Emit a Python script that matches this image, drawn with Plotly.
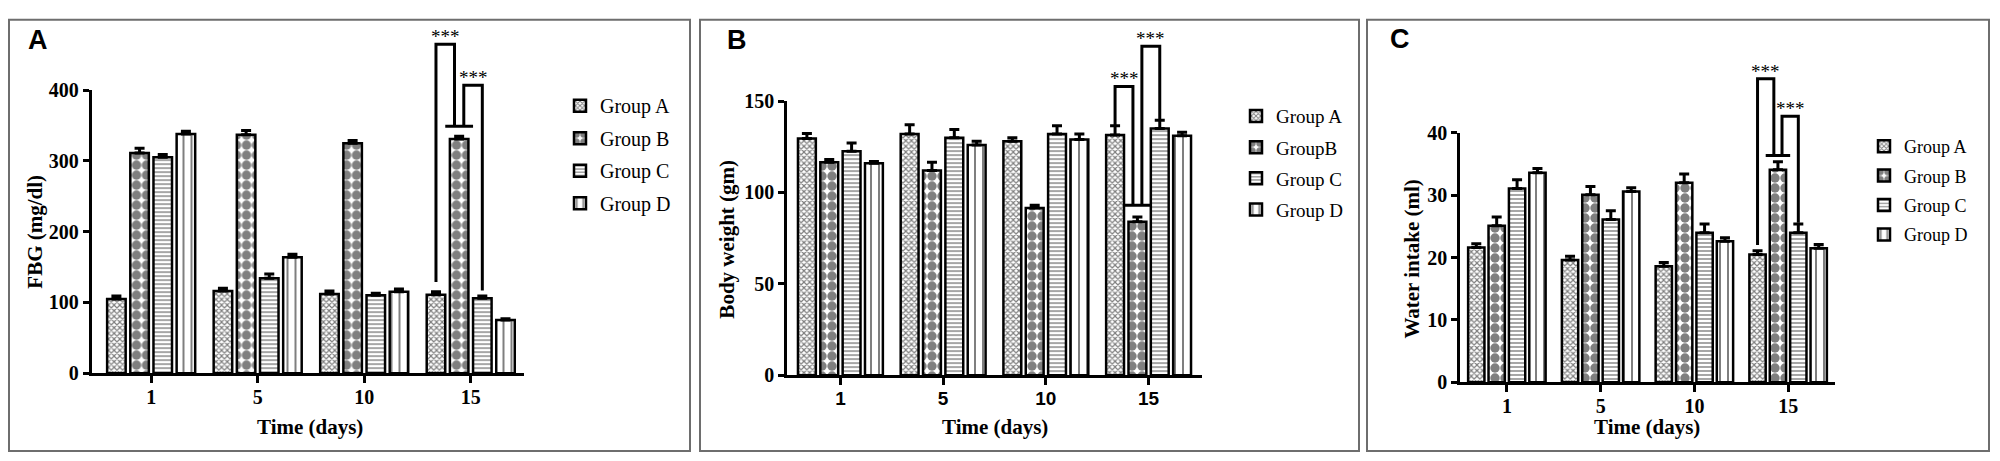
import plotly.graph_objects as go

days = ["1", "5", "10", "15"]
groups = ["Group A", "Group B", "Group C", "Group D"]
groups_weight = ["Group A", "GroupB", "Group C", "Group D"]

# means per group (rows) over days (columns)
fbg_mean = [[105, 116, 112, 111],
            [311, 337, 325, 331],
            [305, 134, 110, 106],
            [338, 164, 115, 75]]
fbg_err = [[4, 4, 4, 4],
           [7, 6, 4, 4],
           [4, 6, 3, 3],
           [4, 4, 4, 2]]

weight_mean = [[129.5, 132, 128, 131.5],
               [116.5, 112, 91.5, 84],
               [122.5, 130, 132, 135],
               [116, 126, 129, 131]]
weight_err = [[2.7, 5, 2, 5],
              [1.5, 4.5, 1.5, 2.5],
              [4.5, 4.5, 4.5, 4.5],
              [1, 2, 3, 2]]

water_mean = [[21.6, 19.6, 18.6, 20.5],
              [25.1, 30.1, 32.0, 34.1],
              [31.1, 26.1, 24.0, 24.0],
              [33.6, 30.6, 22.6, 21.5]]
water_err = [[0.6, 0.6, 0.6, 0.6],
             [1.4, 1.3, 1.4, 1.3],
             [1.4, 1.4, 1.4, 1.4],
             [0.7, 0.6, 0.6, 0.6]]

# day-15 significance brackets: A leg bottom, A-B top, bar over B, B-C top, C leg bottom
fbg_sig = [129, 465, 349, 407, 117]
weight_sig = [136, 158, 93, 180, 140]
water_sig = [22, 48.7, 36.4, 42.7, 25.6]

# page offsets seen in the screenshots: 8px body margin on the left,
# figure starts ~17px down and the shot is squeezed a little vertically
OFF_X = 8
OFF_Y = 17.4
SQUEEZE = 0.955
W, H = 2000 - 2 * OFF_X, 456
BARGAP = 0.13
SERIF = "Liberation Serif"
SANS = "Liberation Sans"


def fx(px):
    return (px - OFF_X) / W


def fy(py):
    return 1 - (py / SQUEEZE - OFF_Y) / H


patterns = [
    dict(shape="x", size=4, solidity=0.5, fgcolor="black", bgcolor="white"),
    dict(shape=".", size=10, solidity=0.7, fgcolor="black", bgcolor="white"),
    dict(shape="-", size=4, solidity=0.35, fgcolor="black", bgcolor="white"),
    dict(shape="|", size=8, solidity=0.25, fgcolor="black", bgcolor="white"),
]

# plot boxes in picture pixels: left, right, bottom (value 0), top (top tick)
panels = [
    dict(means=fbg_mean, errs=fbg_err, names=groups, sig=fbg_sig, ticks=[0, 100, 200, 300, 400],
         box=(91.5, 524, 372, 88), xr=[-0.56, 3.5], legend=(560, 84, 20, 3.5)),
    dict(means=weight_mean, errs=weight_err, names=groups_weight, sig=weight_sig,
         ticks=[0, 50, 100, 150], box=(787, 1202, 374, 99), xr=[-0.52, 3.52],
         legend=(1236, 95, 19, 3.5)),
    dict(means=water_mean, errs=water_err, names=groups, sig=water_sig, ticks=[0, 10, 20, 30, 40],
         box=(1460, 1835, 381, 131), xr=[-0.5, 3.5], legend=(1864, 126, 18, 3)),
]

fig = go.Figure()

tick_font = dict(family=SERIF, size=20, color="black", weight="bold")

layout = dict(
    width=W, height=H,
    margin=dict(l=0, r=0, t=0, b=0),
    paper_bgcolor="white", plot_bgcolor="rgba(0,0,0,0)",
    barmode="group", bargap=BARGAP, bargroupgap=0.2,
    showlegend=True,
)

for n, p in enumerate(panels, start=1):
    xa = "x" if n == 1 else f"x{n}"
    ya = "y" if n == 1 else f"y{n}"
    ya_sig = f"y{n + 3}"
    leg = "legend" if n == 1 else f"legend{n}"
    xpos = list(range(len(days)))
    left, right, bottom, top = p["box"]
    d0, d1 = fy(bottom), fy(top)
    ymax = p["ticks"][-1]

    for i, name in enumerate(p["names"]):
        fig.add_trace(go.Bar(
            x=xpos, y=p["means"][i], name=name, xaxis=xa, yaxis=ya,
            marker=dict(color="white", line=dict(color="black", width=2.5),
                        pattern=patterns[i]),
            error_y=dict(type="data", array=p["errs"][i], arrayminus=[0] * len(days),
                         symmetric=False, color="black", thickness=3, width=5),
            legend=leg, legendgroup=f"{leg}_{i}",
        ))

    # brackets over the last day, on a hidden axis with the same scale that reaches higher
    slot = (1 - BARGAP) / 4
    last = xpos[-1]
    a_c = last - 1.5 * slot
    b_c = last - 0.5 * slot
    c_c = last + 0.5 * slot
    s = p["sig"]
    bx = [a_c, a_c, b_c - 0.2 * slot, b_c - 0.2 * slot, None,
          b_c - 0.6 * slot, b_c + 0.6 * slot, None,
          b_c + 0.2 * slot, b_c + 0.2 * slot, c_c, c_c]
    by = [s[0], s[1], s[1], s[2], None,
          s[2], s[2], None,
          s[2], s[3], s[3], s[4]]
    fig.add_trace(go.Scatter(x=bx, y=by, mode="lines", xaxis=xa, yaxis=ya_sig,
                             line=dict(color="black", width=3),
                             showlegend=False, hoverinfo="skip"))
    for sx, sy in [((a_c + b_c - 0.2 * slot) / 2, s[1]),
                   ((b_c + 0.2 * slot + c_c) / 2, s[3])]:
        fig.add_annotation(x=sx, y=sy, xref=xa, yref=ya_sig, text="***", showarrow=False,
                           xanchor="center", yanchor="bottom", yshift=-5,
                           font=dict(family=SERIF, size=19, color="black"))

    dtop = 0.998
    layout[f"xaxis{'' if n == 1 else n}"] = dict(
        domain=[fx(left), fx(right)], range=p["xr"], anchor=ya,
        tickvals=xpos, ticktext=days, showline=True, linecolor="black", linewidth=3,
        ticks="outside", ticklen=7, tickwidth=2.5, tickcolor="black",
        ticklabelstandoff=-3, showgrid=False, zeroline=False,
        tickfont=dict(family=SANS, size=19, color="black", weight="bold") if n == 2 else tick_font,
    )
    layout[f"yaxis{'' if n == 1 else n}"] = dict(
        domain=[d0, d1], range=[0, ymax], anchor=xa, tickvals=p["ticks"],
        showline=True, linecolor="black", linewidth=2.5, ticks="outside", ticklen=6,
        tickwidth=2.5, tickcolor="black", showgrid=False, zeroline=False,
        tickfont=tick_font,
    )
    layout[f"yaxis{n + 3}"] = dict(
        domain=[d0, dtop], range=[0, ymax * (dtop - d0) / (d1 - d0)], anchor=xa,
        visible=False, showgrid=False, zeroline=False,
    )
    lx, ly, lsize, lgap = p["legend"]
    layout[leg] = dict(x=fx(lx), y=fy(ly), xanchor="left", yanchor="top",
                       font=dict(family=SERIF, size=lsize, color="black"),
                       tracegroupgap=lgap, bgcolor="rgba(0,0,0,0)")

fig.update_layout(**layout)

# panel frames
for x0, x1 in [(9, 690), (700, 1359), (1367, 1989)]:
    fig.add_shape(type="rect", xref="paper", yref="paper", x0=fx(x0), x1=fx(x1),
                  y0=fy(450), y1=fy(17.4),
                  line=dict(color="#6e6e6e", width=2), fillcolor="rgba(0,0,0,0)")

# panel letters
for letter, px, py in [("A", 38, 38), ("B", 737, 38), ("C", 1400, 37)]:
    fig.add_annotation(x=fx(px), y=fy(py), xref="paper", yref="paper", text=letter,
                       showarrow=False, xanchor="center", yanchor="middle",
                       font=dict(family=SANS, size=27, color="black", weight="bold"))

# axis titles
title_font = dict(family=SERIF, size=21, color="black", weight="bold")
for px in [310, 995, 1647]:
    fig.add_annotation(x=fx(px), y=fy(426), xref="paper", yref="paper",
                       text="Time (days)", showarrow=False,
                       xanchor="center", yanchor="middle", font=title_font)
for text, px, py in [("FBG (mg/dl)", 35, 230), ("Body weight (gm)", 727, 238),
                     ("Water intake (ml)", 1412, 258)]:
    fig.add_annotation(x=fx(px), y=fy(py), xref="paper", yref="paper", text=text,
                       textangle=-90, showarrow=False, xanchor="center", yanchor="middle",
                       font=dict(family=SERIF, size=21, color="black", weight="bold"))

fig.write_html("out.html")
